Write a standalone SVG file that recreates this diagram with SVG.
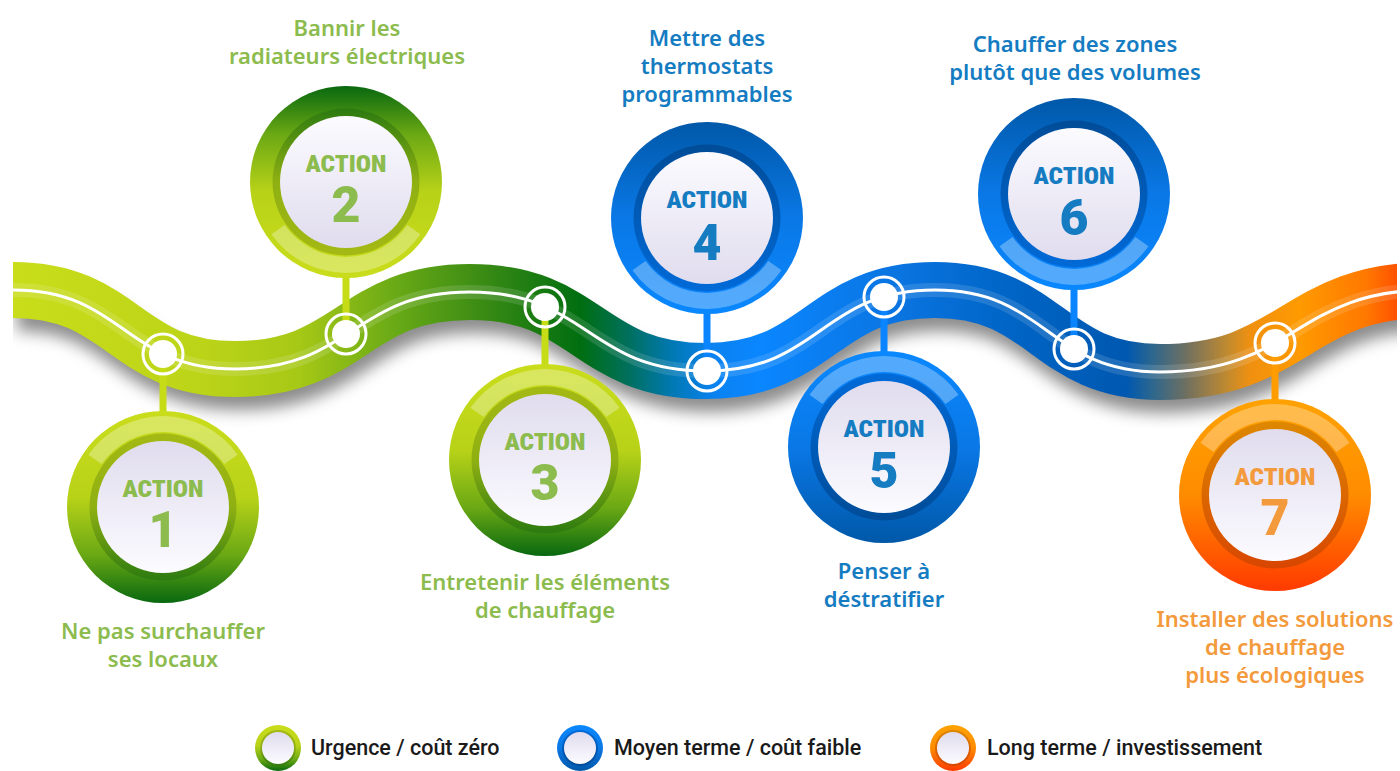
<svg xmlns="http://www.w3.org/2000/svg" xmlns:xlink="http://www.w3.org/1999/xlink" width="1400" height="771" viewBox="0 0 1400 771">
<defs>
<style>
.act{font-family:"Roboto Condensed","DejaVu Sans Condensed",Roboto,sans-serif;font-weight:900;font-size:24px;text-anchor:middle}
.num{font-family:Roboto,"DejaVu Sans",sans-serif;font-weight:900;font-size:50px;text-anchor:middle}
.lbl{font-family:"Noto Sans","Open Sans",sans-serif;font-weight:600;font-size:22px;text-anchor:middle}
.leg{font-family:Roboto,"Liberation Sans",sans-serif;font-weight:500;font-size:21.5px;fill:#1a1a1a}
.g{fill:#8cbb4e}.b{fill:#157cc2}.o{fill:#f39a3c}
.hl{fill:#ffffff;fill-opacity:0.3}
.stem{stroke-width:7;fill:none}
.dot{fill:#ffffff}
.dring{fill:none;stroke:#ffffff;stroke-width:3}
</style>
<linearGradient id="gBand" gradientUnits="userSpaceOnUse" x1="13" y1="0" x2="1397" y2="0">
<stop offset="0" stop-color="#c9dd1a"/>
<stop offset="0.135" stop-color="#bcd418"/>
<stop offset="0.207" stop-color="#a6c816"/>
<stop offset="0.28" stop-color="#66a816"/>
<stop offset="0.337" stop-color="#3c8c14"/>
<stop offset="0.41" stop-color="#006e10"/>
<stop offset="0.446" stop-color="#007060"/>
<stop offset="0.475" stop-color="#0078b0"/>
<stop offset="0.506" stop-color="#0a82f0"/>
<stop offset="0.54" stop-color="#0a86ff"/>
<stop offset="0.641" stop-color="#0a74e0"/>
<stop offset="0.713" stop-color="#0066c8"/>
<stop offset="0.805" stop-color="#0058b0"/>
<stop offset="0.822" stop-color="#2a6690"/>
<stop offset="0.848" stop-color="#707060"/>
<stop offset="0.877" stop-color="#c08a30"/>
<stop offset="0.894" stop-color="#f09010"/>
<stop offset="0.93" stop-color="#ff9a00"/>
<stop offset="0.978" stop-color="#ff7800"/>
<stop offset="1" stop-color="#ff5200"/>
</linearGradient>
<linearGradient id="gGd" x1="0" y1="0" x2="0" y2="1"><stop offset="0" stop-color="#cadd1c"/><stop offset="0.45" stop-color="#b8d218"/><stop offset="0.75" stop-color="#6aa814"/><stop offset="1" stop-color="#08680f"/></linearGradient>
<linearGradient id="gGu" x1="0" y1="1" x2="0" y2="0"><stop offset="0" stop-color="#cadd1c"/><stop offset="0.45" stop-color="#b8d218"/><stop offset="0.75" stop-color="#6aa814"/><stop offset="1" stop-color="#08680f"/></linearGradient>
<linearGradient id="rGd" x1="0" y1="0" x2="0" y2="1"><stop offset="0" stop-color="#a4b914"/><stop offset="0.5" stop-color="#8fb012"/><stop offset="1" stop-color="#2c7a10"/></linearGradient>
<linearGradient id="rGu" x1="0" y1="1" x2="0" y2="0"><stop offset="0" stop-color="#a4b914"/><stop offset="0.5" stop-color="#8fb012"/><stop offset="1" stop-color="#2c7a10"/></linearGradient>
<linearGradient id="gBu" x1="0" y1="0" x2="0" y2="1"><stop offset="0" stop-color="#0058a8"/><stop offset="0.5" stop-color="#0a78e6"/><stop offset="1" stop-color="#0a88ff"/></linearGradient>
<linearGradient id="gBd" x1="0" y1="1" x2="0" y2="0"><stop offset="0" stop-color="#0058a8"/><stop offset="0.5" stop-color="#0a78e6"/><stop offset="1" stop-color="#0a88ff"/></linearGradient>
<linearGradient id="rBu" x1="0" y1="0" x2="0" y2="1"><stop offset="0" stop-color="#004c98"/><stop offset="1" stop-color="#006ad8"/></linearGradient>
<linearGradient id="rBd" x1="0" y1="1" x2="0" y2="0"><stop offset="0" stop-color="#004c98"/><stop offset="1" stop-color="#006ad8"/></linearGradient>
<linearGradient id="gO" x1="0" y1="0" x2="0" y2="1"><stop offset="0" stop-color="#ffa200"/><stop offset="0.5" stop-color="#ff8c00"/><stop offset="1" stop-color="#ff3a00"/></linearGradient>
<linearGradient id="rO" x1="0" y1="0" x2="0" y2="1"><stop offset="0" stop-color="#dd8800"/><stop offset="1" stop-color="#d84600"/></linearGradient>
<linearGradient id="dD" x1="0" y1="0" x2="0" y2="1"><stop offset="0" stop-color="#e0dcee"/><stop offset="1" stop-color="#fcfbff"/></linearGradient>
<linearGradient id="dU" x1="0" y1="1" x2="0" y2="0"><stop offset="0" stop-color="#e0dcee"/><stop offset="1" stop-color="#fcfbff"/></linearGradient>
<path id="hlTop" d="M -74.5 -52.2 A 91 91 0 0 1 74.5 -52.2 L 61.4 -43 A 75 75 0 0 0 -61.4 -43 Z"/>
<path id="hlBot" d="M -74.5 52.2 A 91 91 0 0 0 74.5 52.2 L 61.4 43 A 75 75 0 0 1 -61.4 43 Z"/>
<path id="wave" d="M 13 290 C 124 290 124 369 235 369 C 352.5 369 352.5 292 470 292 C 588 292 588 371 706 371 C 820.5 371 820.5 290 935 290 C 1047.5 290 1047.5 372 1160 372 C 1295 372 1295 290 1430 290"/>
<clipPath id="clipW"><rect x="13" y="0" width="1384" height="771"/></clipPath>
<filter id="shadow" x="-10%" y="-50%" width="120%" height="200%"><feGaussianBlur stdDeviation="8"/></filter>
</defs>

<g id="timeline" clip-path="url(#clipW)">
<use xlink:href="#wave" href="#wave" transform="translate(4,15)" stroke="#000000" stroke-opacity="0.45" stroke-width="52" fill="none" filter="url(#shadow)"/>
<use xlink:href="#wave" href="#wave" stroke="url(#gBand)" stroke-width="56" fill="none"/>
<use xlink:href="#wave" href="#wave" stroke="#ffffff" stroke-opacity="0.13" stroke-width="14" fill="none"/>
<use xlink:href="#wave" href="#wave" stroke="#ffffff" stroke-width="3" fill="none"/>
</g>

<g id="connectors">
<line class="stem" x1="163" y1="354" x2="163" y2="413" stroke="#c6dc16"/>
<line class="stem" x1="346" y1="334" x2="346" y2="275" stroke="#c6dc16"/>
<line class="stem" x1="545" y1="307" x2="545" y2="366" stroke="#c6dc16"/>
<line class="stem" x1="707" y1="371" x2="707" y2="311" stroke="#0a84ff"/>
<line class="stem" x1="884" y1="297" x2="884" y2="353" stroke="#0a84ff"/>
<line class="stem" x1="1074" y1="349" x2="1074" y2="288" stroke="#0a84ff"/>
<line class="stem" x1="1275" y1="343" x2="1275" y2="401" stroke="#ff9c00"/>
</g>

<g id="action1">
<circle class="dot" cx="163" cy="354" r="14"/><circle class="dring" cx="163" cy="354" r="20"/>
<circle cx="163" cy="507" r="96" fill="url(#gGd)"/>
<use xlink:href="#hlTop" href="#hlTop" class="hl" transform="translate(163,507)"/>
<circle cx="163" cy="507" r="73.5" fill="url(#rGd)"/>
<circle cx="163" cy="507" r="66" fill="url(#dD)"/>
<text class="act g" x="163" y="497" textLength="81" lengthAdjust="spacingAndGlyphs">ACTION</text>
<text class="num g" x="163" y="547">1</text>
<text class="lbl g" x="163" y="639">Ne pas surchauffer</text>
<text class="lbl g" x="163" y="667">ses locaux</text>
</g>

<g id="action2">
<circle class="dot" cx="346" cy="334" r="14"/><circle class="dring" cx="346" cy="334" r="20"/>
<circle cx="346" cy="182" r="96" fill="url(#gGu)"/>
<use xlink:href="#hlBot" href="#hlBot" class="hl" transform="translate(346,182)"/>
<circle cx="346" cy="182" r="73.5" fill="url(#rGu)"/>
<circle cx="346" cy="182" r="66" fill="url(#dU)"/>
<text class="act g" x="346" y="172" textLength="81" lengthAdjust="spacingAndGlyphs">ACTION</text>
<text class="num g" x="346" y="222">2</text>
<text class="lbl g" x="347" y="36">Bannir les</text>
<text class="lbl g" x="347" y="64">radiateurs électriques</text>
</g>

<g id="action3">
<circle class="dot" cx="545" cy="307" r="14"/><circle class="dring" cx="545" cy="307" r="20"/>
<circle cx="545" cy="460" r="96" fill="url(#gGd)"/>
<use xlink:href="#hlTop" href="#hlTop" class="hl" transform="translate(545,460)"/>
<circle cx="545" cy="460" r="73.5" fill="url(#rGd)"/>
<circle cx="545" cy="460" r="66" fill="url(#dD)"/>
<text class="act g" x="545" y="450" textLength="81" lengthAdjust="spacingAndGlyphs">ACTION</text>
<text class="num g" x="545" y="500">3</text>
<text class="lbl g" x="545" y="590">Entretenir les éléments</text>
<text class="lbl g" x="545" y="618">de chauffage</text>
</g>

<g id="action4">
<circle class="dot" cx="707" cy="371" r="14"/><circle class="dring" cx="707" cy="371" r="20"/>
<circle cx="707" cy="218" r="96" fill="url(#gBu)"/>
<use xlink:href="#hlBot" href="#hlBot" class="hl" transform="translate(707,218)"/>
<circle cx="707" cy="218" r="73.5" fill="url(#rBu)"/>
<circle cx="707" cy="218" r="66" fill="url(#dU)"/>
<text class="act b" x="707" y="208" textLength="81" lengthAdjust="spacingAndGlyphs">ACTION</text>
<text class="num b" x="707" y="260">4</text>
<text class="lbl b" x="707" y="46">Mettre des</text>
<text class="lbl b" x="707" y="74">thermostats</text>
<text class="lbl b" x="707" y="102">programmables</text>
</g>

<g id="action5">
<circle class="dot" cx="884" cy="297" r="14"/><circle class="dring" cx="884" cy="297" r="20"/>
<circle cx="884" cy="447" r="96" fill="url(#gBd)"/>
<use xlink:href="#hlTop" href="#hlTop" class="hl" transform="translate(884,447)"/>
<circle cx="884" cy="447" r="73.5" fill="url(#rBd)"/>
<circle cx="884" cy="447" r="66" fill="url(#dD)"/>
<text class="act b" x="884" y="437" textLength="81" lengthAdjust="spacingAndGlyphs">ACTION</text>
<text class="num b" x="884" y="488">5</text>
<text class="lbl b" x="884" y="579">Penser à</text>
<text class="lbl b" x="884" y="607">déstratifier</text>
</g>

<g id="action6">
<circle class="dot" cx="1074" cy="349" r="14"/><circle class="dring" cx="1074" cy="349" r="20"/>
<circle cx="1074" cy="194" r="96" fill="url(#gBu)"/>
<use xlink:href="#hlBot" href="#hlBot" class="hl" transform="translate(1074,194)"/>
<circle cx="1074" cy="194" r="73.5" fill="url(#rBu)"/>
<circle cx="1074" cy="194" r="66" fill="url(#dU)"/>
<text class="act b" x="1074" y="184" textLength="81" lengthAdjust="spacingAndGlyphs">ACTION</text>
<text class="num b" x="1074" y="235">6</text>
<text class="lbl b" x="1075" y="52">Chauffer des zones</text>
<text class="lbl b" x="1075" y="80">plutôt que des volumes</text>
</g>

<g id="action7">
<circle class="dot" cx="1275" cy="343" r="14"/><circle class="dring" cx="1275" cy="343" r="20"/>
<circle cx="1275" cy="495" r="96" fill="url(#gO)"/>
<use xlink:href="#hlTop" href="#hlTop" class="hl" transform="translate(1275,495)"/>
<circle cx="1275" cy="495" r="73.5" fill="url(#rO)"/>
<circle cx="1275" cy="495" r="66" fill="url(#dD)"/>
<text class="act o" x="1275" y="485" textLength="81" lengthAdjust="spacingAndGlyphs">ACTION</text>
<text class="num o" x="1275" y="535">7</text>
<text class="lbl o" x="1275" y="627">Installer des solutions</text>
<text class="lbl o" x="1275" y="655">de chauffage</text>
<text class="lbl o" x="1275" y="683">plus écologiques</text>
</g>

<g id="legend">
<circle cx="278" cy="748" r="23" fill="url(#gGd)"/><circle cx="278" cy="748" r="18" fill="url(#rGd)"/><circle cx="278" cy="748" r="16" fill="url(#dD)"/>
<text class="leg" x="311" y="755">Urgence / coût zéro</text>
<circle cx="580" cy="748" r="23" fill="url(#gBd)"/><circle cx="580" cy="748" r="18" fill="url(#rBd)"/><circle cx="580" cy="748" r="16" fill="url(#dD)"/>
<text class="leg" x="614" y="755">Moyen terme / coût faible</text>
<circle cx="953" cy="748" r="23" fill="url(#gO)"/><circle cx="953" cy="748" r="18" fill="url(#rO)"/><circle cx="953" cy="748" r="16" fill="url(#dD)"/>
<text class="leg" x="987" y="755">Long terme / investissement</text>
</g>
</svg>
